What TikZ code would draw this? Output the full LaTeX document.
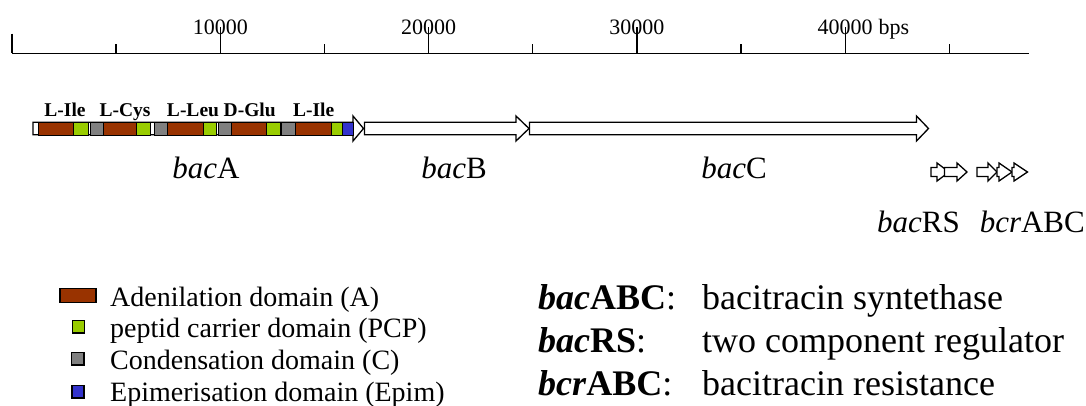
\documentclass[tikz,border=0pt]{standalone}
\usepackage{fontspec}
\setmainfont{Liberation Serif}
\definecolor{abrown}{HTML}{993300}
\definecolor{pgreen}{HTML}{99CC00}
\definecolor{cgrey}{HTML}{808080}
\definecolor{eblue}{HTML}{3333CC}
\newcommand\gene[6]{%
  \draw[genebox] (#1,#4-#5) -- (#2,#4-#5) -- (#2,#4-#6) -- (#3,#4) -- (#2,#4+#6) -- (#2,#4+#5) -- (#1,#4+#5) -- cycle;}
\newcommand\dom[3]{\draw[dombox,fill=#3] (#1,122.5) rectangle (#2,135);}
\begin{document}
\begin{tikzpicture}[x=1pt,y=-1pt,
  axisline/.style={line width=1.4pt},
  genebox/.style={draw=black,fill=white,line width=1.3pt,line join=miter},
  dombox/.style={draw=black,line width=1pt},
  legbox/.style={draw=black,line width=1.2pt},
  scalelbl/.style={font=\fontsize{22}{24}\selectfont,inner sep=0pt,anchor=base},
  aalbl/.style={font=\bfseries\fontsize{19.5}{22}\selectfont,inner sep=0pt,anchor=base},
  genelbl/.style={font=\fontsize{31}{34}\selectfont,inner sep=0pt,anchor=base},
  legtxt/.style={font=\fontsize{28}{30}\selectfont,inner sep=0pt,anchor=base west},
  keytxt/.style={font=\fontsize{36}{40}\selectfont,inner sep=0pt,anchor=base west}]
\useasboundingbox (0,0) rectangle (1086,405);
% scale
\draw[axisline] (12,53.4) -- (1028.5,53.4);
\draw[axisline] (12,33.7) -- (12,53.4);
\foreach \k in {1,3,5,7,9} \draw[axisline] (12+104.15*\k,44) -- (12+104.15*\k,53.4);
\node[scalelbl] (s1) at (220.3,34.4) {10000};
\node[scalelbl] (s2) at (428.6,34.4) {20000};
\node[scalelbl] (s3) at (636.9,34.4) {30000};
\node[scalelbl] (s4) at (845.2,34.4) {40000};
\node[scalelbl,anchor=base west] (bps) at ([xshift=5.5pt]s4.base east) {bps};
\foreach \k in {2,4,6,8} \draw[axisline] (12+104.15*\k,27) -- (12+104.15*\k,53.4);
% genes
\gene{33}{353}{363.5}{128.5}{6.2}{12.5}
\dom{38.3}{73.3}{abrown}\dom{73.3}{88.3}{pgreen}
\dom{90.7}{103.3}{cgrey}\dom{103.3}{136.7}{abrown}\dom{136.7}{150}{pgreen}
\dom{154}{167.3}{cgrey}\dom{167.3}{203.3}{abrown}\dom{203.3}{216.7}{pgreen}
\dom{218.3}{231.7}{cgrey}\dom{231.7}{266.7}{abrown}\dom{266.7}{280}{pgreen}
\dom{281.7}{295}{cgrey}\dom{295}{331.7}{abrown}\dom{331.7}{342.7}{pgreen}
\dom{342.7}{353}{eblue}
\gene{364.5}{516}{529}{128.5}{6.2}{12.5}
\gene{529.5}{916.5}{928.5}{128.5}{6.2}{12.5}
% small genes
\gene{931}{937}{949}{172}{4.5}{9}
\gene{944.5}{957}{967}{172}{4.5}{9}
\gene{977}{988}{997}{172}{4.5}{9}
\gene{997}{999}{1012}{172}{4.5}{9}
\gene{1012}{1014}{1027.5}{172}{4.5}{9}
% amino acid labels
\node[aalbl] (aa1) at (65,116.7) {L-Ile};
\node[aalbl] (aa2) at (125,116.7) {L-Cys};
\node[aalbl] (aa3) at (193,116.7) {L-Leu};
\node[aalbl] (aa4) at (249.7,116.7) {D-Glu};
\node[aalbl] (aa5) at (313.7,116.7) {L-Ile};
% gene labels
\node[genelbl] (gA) at (206,178) {\itshape bac\upshape A};
\node[genelbl] (gB) at (454,178) {\itshape bac\upshape B};
\node[genelbl] (gC) at (734,178) {\itshape bac\upshape C};
\node[genelbl,anchor=base west] (gRS) at (877,232.7) {\itshape bac\upshape RS};
\node[genelbl,anchor=base east] (gbcr) at (1085,232.7) {\itshape bcr\upshape ABC};
% legend
\draw[legbox,fill=abrown] (60,288.5) rectangle (96,302.5);
\draw[legbox,fill=pgreen] (72.3,320.5) rectangle (84.3,333);
\draw[legbox,fill=cgrey] (71.5,352.5) rectangle (84,365);
\draw[legbox,fill=eblue] (72,385.5) rectangle (84,398);
\node[legtxt] (l1) at (110,306) {Adenilation domain (A)};
\node[legtxt] (l2) at (110,337.7) {peptid carrier domain (PCP)};
\node[legtxt] (l3) at (110,369.4) {Condensation domain (C)};
\node[legtxt] (l4) at (110,401) {Epimerisation domain (Epim)};
% key
\node[keytxt] (k1) at (538,309) {\textbf{\itshape bac}\textbf{ABC}:};
\node[keytxt] (k2) at (538,352) {\textbf{\itshape bac}\textbf{RS}:};
\node[keytxt] (k3) at (538,395) {\textbf{\itshape bcr}\textbf{ABC}:};
\node[keytxt] (d1) at (702,309) {bacitracin syntethase};
\node[keytxt] (d2) at (702,352) {two component regulator};
\node[keytxt] (d3) at (702,395) {bacitracin resistance};
\end{tikzpicture}
\end{document}
